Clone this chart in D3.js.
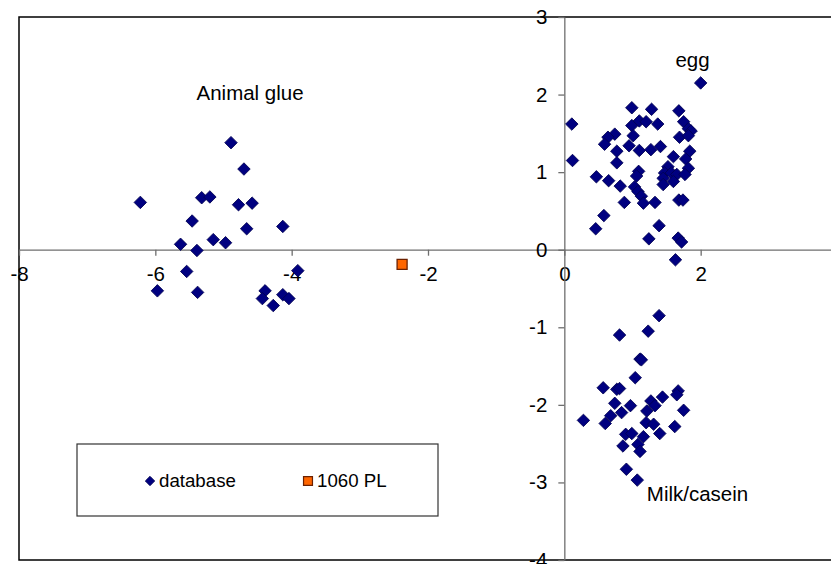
<!doctype html>
<html lang="en">
<head>
  <meta charset="utf-8">
  <title>Binder scatter</title>
  <script src="https://cdn.jsdelivr.net/npm/d3@7"></script>
  <style>
    body { margin: 0; background: #fff; }
    svg { display: block; font-family: "Liberation Sans", Arial, sans-serif; }
  </style>
</head>
<body>
  <svg id="chart" width="831" height="564"></svg>
  <script>
    // database points, grouped by cluster
    var glue = [
      [-6.22, 0.61], [-4.89, 1.38], [-4.70, 1.04], [-5.32, 0.67], [-5.20, 0.68],
      [-4.78, 0.58], [-4.58, 0.60], [-5.46, 0.37], [-4.66, 0.27], [-4.13, 0.30],
      [-5.63, 0.07], [-5.15, 0.13], [-4.97, 0.09], [-5.39, -0.01], [-5.54, -0.28],
      [-3.91, -0.27], [-5.97, -0.53], [-5.38, -0.55], [-4.39, -0.53], [-4.43, -0.63],
      [-4.27, -0.72], [-4.13, -0.58], [-4.04, -0.63]
    ];
    var egg = [
      [2.00, 2.15], [0.11, 1.62], [0.12, 1.15], [0.99, 1.83], [1.28, 1.81],
      [1.68, 1.79], [0.99, 1.60], [1.10, 1.66], [1.20, 1.65], [1.37, 1.62],
      [1.75, 1.65], [1.82, 1.56], [1.86, 1.53], [0.74, 1.49], [0.64, 1.45],
      [0.59, 1.36], [1.01, 1.47], [1.69, 1.45], [1.82, 1.47], [0.95, 1.34],
      [0.77, 1.27], [1.10, 1.28], [1.27, 1.29], [1.41, 1.33], [1.84, 1.27],
      [1.60, 1.20], [1.78, 1.17], [0.77, 1.12], [1.52, 1.07], [1.82, 1.05],
      [1.09, 1.01], [1.06, 0.95], [1.47, 0.99], [1.57, 0.99], [1.65, 0.97],
      [1.77, 0.97], [0.47, 0.94], [0.65, 0.89], [1.45, 0.92], [1.60, 0.88],
      [0.82, 0.82], [1.03, 0.81], [1.45, 0.84], [1.08, 0.75], [1.13, 0.69],
      [1.68, 0.64], [1.74, 0.64], [0.88, 0.61], [1.16, 0.60], [1.33, 0.61],
      [0.58, 0.44], [0.46, 0.27], [1.39, 0.31], [1.24, 0.14], [1.67, 0.15],
      [1.72, 0.10], [1.63, -0.13]
    ];
    var milk = [
      [1.39, -0.85], [1.23, -1.05], [0.81, -1.10], [1.11, -1.41], [1.13, -1.42],
      [1.04, -1.65], [0.57, -1.78], [0.77, -1.80], [0.81, -1.79], [1.67, -1.82],
      [1.65, -1.87], [1.44, -1.90], [0.74, -1.98], [0.97, -2.01], [1.27, -1.95],
      [1.33, -2.01], [1.75, -2.07], [1.21, -2.08], [0.68, -2.14], [0.84, -2.10],
      [0.28, -2.20], [0.60, -2.24], [1.20, -2.23], [1.31, -2.25], [1.62, -2.28],
      [1.40, -2.37], [0.90, -2.38], [0.99, -2.37], [1.16, -2.41], [1.08, -2.51],
      [0.86, -2.53], [1.11, -2.60], [0.91, -2.83], [1.07, -2.97]
    ];
    var sample = [[-2.38, -0.19]]; // 1060 PL

    var xTicks = [-8, -6, -4, -2, 0, 2, 4];
    var yTicks = [-4, -3, -2, -1, 0, 1, 2, 3];
    var notes = [
      { text: "Animal glue", x: -4.61, y: 1.93, anchor: "middle" },
      { text: "egg", x: 1.88, y: 2.35, anchor: "middle" },
      { text: "Milk/casein", x: 1.21, y: -3.24, anchor: "start" }
    ];
    var legendItems = ["database", "1060 PL"];

    var svg = d3.select("#chart");
    var x = d3.scaleLinear().domain([-8, 4]).range([19, 837]);
    var y = d3.scaleLinear().domain([-4, 3]).range([560, 17]);
    var fmt = d => String(d); // plain hyphen, no decimals

    // plot area frame
    svg.append("rect")
      .attr("x", x(-8)).attr("y", y(3))
      .attr("width", x(4) - x(-8)).attr("height", y(-4) - y(3))
      .attr("fill", "#fff").attr("stroke", "#000").attr("stroke-width", 1.5);

    // axes cross at the origin
    var xAxis = svg.append("g")
      .attr("transform", "translate(0," + y(0) + ")")
      .call(d3.axisBottom(x).tickValues(xTicks).tickFormat(fmt).tickSize(6).tickSizeOuter(0).tickPadding(11));
    var yAxis = svg.append("g")
      .attr("transform", "translate(" + x(0) + ",0)")
      .call(d3.axisLeft(y).tickValues(yTicks).tickFormat(fmt).tickSize(6).tickSizeOuter(0).tickPadding(11));

    [xAxis, yAxis].forEach(g => {
      g.attr("font-family", null).attr("font-size", null);
      g.select(".domain").attr("stroke", "#6e6e6e").attr("stroke-width", 1.3);
      g.selectAll(".tick line").attr("stroke", "#6e6e6e").attr("stroke-width", 1.3);
      g.selectAll(".tick text").style("font-size", "20.5px").attr("fill", "#000");
    });

    // points
    var diamond = d3.symbol(d3.symbolSquare, 78);
    var db = glue.concat(egg, milk);
    svg.append("g").selectAll("path")
      .data(db)
      .enter()
      .append("path")
        .attr("d", diamond)
        .attr("transform", d => "translate(" + x(d[0]) + "," + y(d[1]) + ") rotate(45)")
        .attr("fill", "#000080")
        .attr("stroke", "#000050")
        .attr("stroke-width", 0.8);

    svg.append("g").selectAll("path")
      .data(sample)
      .enter()
      .append("path")
        .attr("d", d3.symbol(d3.symbolSquare, 100))
        .attr("transform", d => "translate(" + x(d[0]) + "," + y(d[1]) + ")")
        .attr("fill", "#ff6600")
        .attr("stroke", "#6b2000")
        .attr("stroke-width", 1.3);

    // cluster labels
    svg.append("g").selectAll("text")
      .data(notes)
      .enter()
      .append("text")
        .attr("x", d => x(d.x))
        .attr("y", d => y(d.y))
        .attr("text-anchor", d => d.anchor)
        .style("font-size", "20.5px")
        .text(d => d.text);

    // legend
    var lg = svg.append("g");
    lg.append("rect")
      .attr("x", 77).attr("y", 444).attr("width", 361).attr("height", 72)
      .attr("fill", "#fff").attr("stroke", "#333").attr("stroke-width", 1.2);
    lg.append("path")
      .attr("d", d3.symbol(d3.symbolSquare, 44))
      .attr("transform", "translate(150,481) rotate(45)")
      .attr("fill", "#000080").attr("stroke", "#000050").attr("stroke-width", 0.8);
    lg.append("path")
      .attr("d", d3.symbol(d3.symbolSquare, 80))
      .attr("transform", "translate(308,481)")
      .attr("fill", "#ff6600").attr("stroke", "#6b2000").attr("stroke-width", 1.2);
    lg.selectAll("text")
      .data(legendItems)
      .enter()
      .append("text")
        .attr("x", (d, i) => i === 0 ? 159 : 317)
        .attr("y", 487)
        .style("font-size", "18.7px")
        .text(d => d);
  </script>
</body>
</html>
